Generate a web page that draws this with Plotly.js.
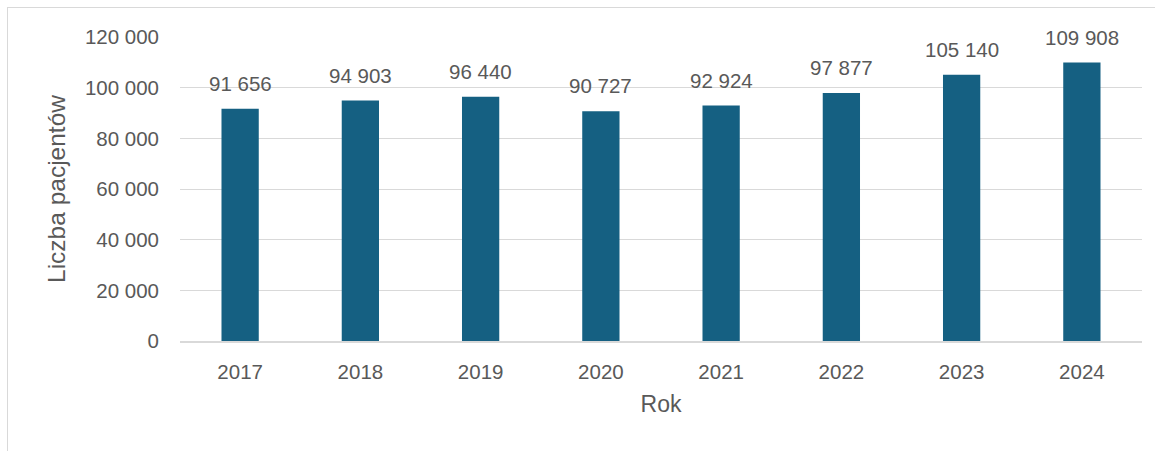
<!DOCTYPE html>
<html>
<head>
<meta charset="utf-8">
<script src="https://cdn.plot.ly/plotly-3.0.1.min.js"></script>
<style>
html,body{margin:0;padding:0;width:1155px;height:451px;overflow:hidden;background:#fff;}
#frame{position:absolute;left:7px;top:7px;width:1170px;height:470px;border:1px solid #d9d9d9;box-sizing:border-box;}
#chart{position:absolute;left:0;top:0;width:1155px;height:451px;}
</style>
</head>
<body>
<div id="frame"></div>
<div id="chart"></div>
<script>
const years = ['2017','2018','2019','2020','2021','2022','2023','2024'];
const patients = [91656, 94903, 96440, 90727, 92924, 97877, 105140, 109908];
const yTicks = [0, 20000, 40000, 60000, 80000, 100000, 120000];

const font = 'Liberation Sans, Arial, sans-serif';
const gray = '#595959';

function fmt(v){ return String(v).replace(/\B(?=(\d{3})+(?!\d))/g, ' '); }

const trace = {
  type: 'bar',
  x: years,
  y: patients,
  width: 0.31,
  marker: {color: '#156082'},
  hoverinfo: 'none'
};

const labels = years.map((yr, i) => ({
  x: i, y: patients[i], xref: 'x', yref: 'y',
  text: fmt(patients[i]), showarrow: false,
  yanchor: 'bottom', yshift: 12,
  font: {family: font, size: 20.5, color: gray}
}));

const layout = {
  width: 1155,
  height: 451,
  margin: {l: 180, r: 13, t: 37, b: 110},
  paper_bgcolor: 'rgba(0,0,0,0)',
  plot_bgcolor: 'rgba(0,0,0,0)',
  separators: ', ',
  showlegend: false,
  font: {family: font, size: 20, color: gray},
  annotations: labels,
  xaxis: {
    type: 'category',
    categoryorder: 'array',
    categoryarray: years,
    range: [-0.5, years.length - 0.5],
    showgrid: false,
    showline: true,
    linecolor: '#d9d9d9',
    linewidth: 1.5,
    ticks: '',
    ticklabelstandoff: 12,
    tickfont: {family: font, size: 20.5, color: gray},
    title: {text: 'Rok', font: {family: font, size: 23, color: gray}, standoff: 14},
    automargin: false
  },
  yaxis: {
    range: [0, 120000],
    tickvals: yTicks,
    tickformat: ',d',
    showgrid: true,
    gridcolor: '#d9d9d9',
    gridwidth: 1,
    zeroline: false,
    showline: false,
    ticks: '',
    ticklabelstandoff: 20,
    tickfont: {family: font, size: 20.5, color: gray},
    title: {text: 'Liczba pacjentów', font: {family: font, size: 24.5, color: gray}, standoff: 12},
    automargin: false
  }
};

Plotly.newPlot('chart', [trace], layout, {staticPlot: true, displayModeBar: false});
</script>
</body>
</html>
